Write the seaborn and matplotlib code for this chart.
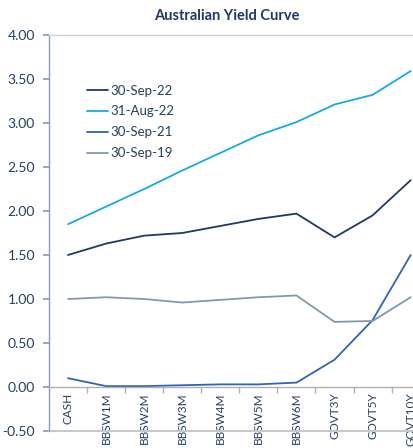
import numpy as np
import pandas as pd
import seaborn as sns
import matplotlib.pyplot as plt
from matplotlib.ticker import FormatStrFormatter

# data
tenors = ["CASH", "BBSW1M", "BBSW2M", "BBSW3M", "BBSW4M", "BBSW5M",
          "BBSW6M", "GOVT3Y", "GOVT5Y", "GOVT10Y"]
sep22 = [1.50, 1.63, 1.72, 1.75, 1.83, 1.91, 1.97, 1.70, 1.95, 2.35]
aug22 = [1.85, 2.05, 2.25, 2.46, 2.66, 2.86, 3.01, 3.21, 3.32, 3.59]
sep21 = [0.10, 0.01, 0.01, 0.02, 0.03, 0.03, 0.05, 0.31, 0.76, 1.50]
sep19 = [1.00, 1.02, 1.00, 0.96, 0.99, 1.02, 1.04, 0.74, 0.75, 1.02]
series_names = ["30-Sep-22", "31-Aug-22", "30-Sep-21", "30-Sep-19"]
colors = ["#1F3864", "#16A9E8", "#2E63B8", "#8497B0"]

df = pd.DataFrame({
    "tenor": tenors * 4,
    "yield": sep22 + aug22 + sep21 + sep19,
    "series": np.repeat(series_names, len(tenors)),
})

sns.set_theme(style="white")
plt.rcParams["font.family"] = ["Lato", "DejaVu Sans"]
text_col = "#243F60"

fig = plt.figure(figsize=(4.14, 4.48), dpi=100)
ax = fig.add_axes([49 / 414, 17 / 448, (429.7 - 49) / 414, 396 / 448])

sns.lineplot(data=df, x="tenor", y="yield", hue="series",
             palette=dict(zip(series_names, colors)), sort=False,
             estimator=None, linewidth=1.3, ax=ax)

ax.set_xlim(-0.5, len(tenors) - 0.5)
ax.set_ylim(-0.5, 4.0)
ax.set_yticks(np.arange(-0.5, 4.01, 0.5))
ax.yaxis.set_major_formatter(FormatStrFormatter("%.2f"))
ax.set_xlabel("")
ax.set_ylabel("")

# category axis crosses at zero
ax.spines["bottom"].set_position(("data", 0))
ax.spines["bottom"].set_color("#B0B0B0")
ax.spines["left"].set_color("#8C9BB0")
ax.spines["top"].set_color("#D0D0D0")
ax.spines["right"].set_color("#D0D0D0")
for s in ax.spines.values():
    s.set_linewidth(1.0)
ax.axhline(-0.5, color="#C8C8C8", lw=1.5, clip_on=False)

ax.set_xticks(range(len(tenors)))
ax.set_xticklabels(tenors, rotation=90, va="top", ha="center")
ax.set_xticks(np.arange(0.5, len(tenors) - 1, 1), minor=True)
ax.tick_params(axis="x", which="major", length=0, pad=4,
               labelsize=8.5, labelcolor=text_col)
ax.tick_params(axis="x", which="minor", bottom=True, length=4,
               direction="out", color="#B0B0B0")
ax.tick_params(axis="y", left=True, length=4, direction="out",
               color="#8C9BB0", pad=6, labelsize=10, labelcolor=text_col)

leg = ax.legend(loc="upper left", bbox_to_anchor=(0.1, 0.875), frameon=False,
                borderpad=0, borderaxespad=0, handlelength=1.6,
                handletextpad=0.15, labelspacing=0.68, fontsize=9.5)
for t in leg.get_texts():
    t.set_color(text_col)

fig.text(227 / 414, 1 - 16 / 448, "Australian Yield Curve", ha="center",
         va="center", fontsize=10.5, fontweight="bold", color="#1F3864")

fig.savefig("out.png", dpi=100)
